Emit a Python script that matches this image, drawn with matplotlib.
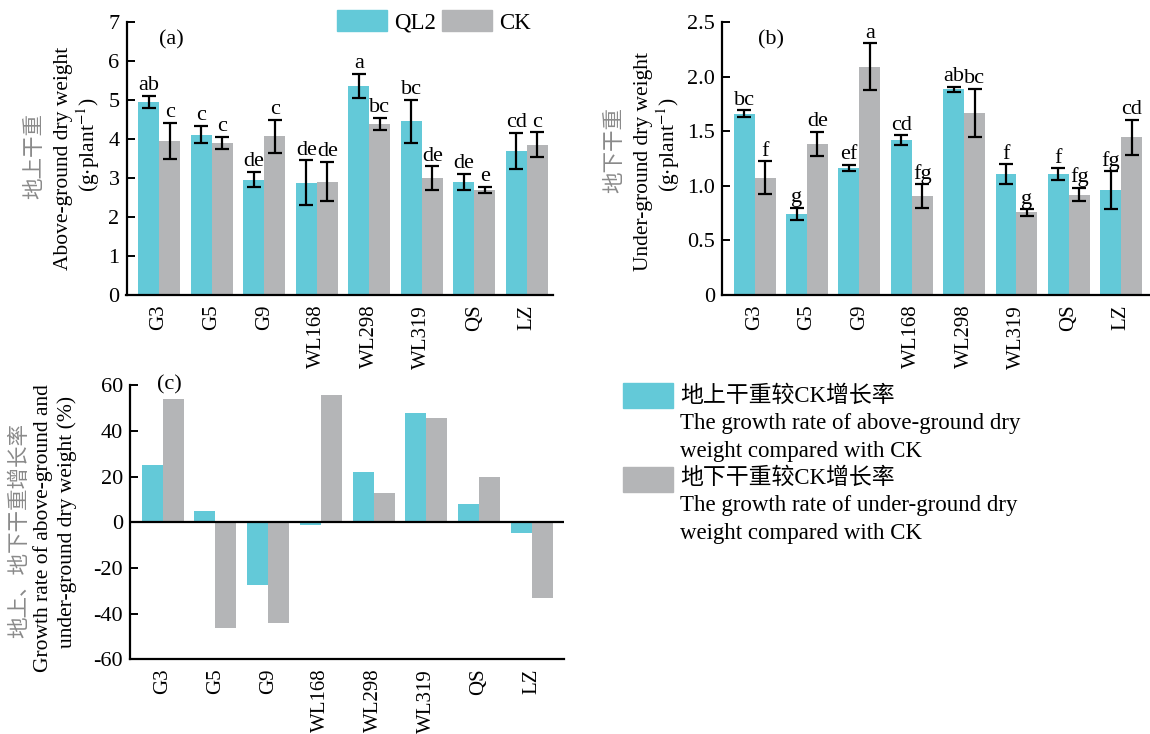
import numpy as np
import matplotlib
matplotlib.use("Agg")
import matplotlib.pyplot as plt
from matplotlib.patches import Rectangle

plt.rcParams['font.family'] = ['Liberation Serif', 'Noto Sans CJK SC']
plt.rcParams['mathtext.fontset'] = 'stix'
plt.rcParams['axes.unicode_minus'] = False

# DATA
cultivars = ["G3", "G5", "G9", "WL168", "WL298", "WL319", "QS", "LZ"]

# above-ground dry weight (g/plant)
above_ql2 = [4.95, 4.11, 2.96, 2.88, 5.37, 4.45, 2.90, 3.69]
above_ql2_err = [0.15, 0.22, 0.19, 0.57, 0.31, 0.56, 0.21, 0.46]
above_ck = [3.96, 3.90, 4.07, 2.91, 4.39, 3.00, 2.69, 3.86]
above_ck_err = [0.46, 0.15, 0.42, 0.50, 0.16, 0.30, 0.08, 0.31]
above_ql2_sig = ["ab", "c", "de", "de", "a", "bc", "de", "cd"]
above_ck_sig = ["c", "c", "c", "de", "bc", "de", "e", "c"]

# under-ground dry weight (g/plant)
under_ql2 = [1.66, 0.745, 1.164, 1.416, 1.884, 1.105, 1.105, 0.96]
under_ql2_err = [0.034, 0.054, 0.03, 0.046, 0.025, 0.092, 0.054, 0.174]
under_ck = [1.075, 1.385, 2.09, 0.908, 1.669, 0.757, 0.92, 1.447]
under_ck_err = [0.15, 0.11, 0.214, 0.108, 0.22, 0.03, 0.06, 0.16]
under_ql2_sig = ["bc", "g", "ef", "cd", "ab", "f", "f", "fg"]
under_ck_sig = ["f", "de", "a", "fg", "bc", "g", "fg", "cd"]

# growth rate compared with CK (%)
rate_above = [24.9, 5.0, -27.4, -1.2, 22.2, 47.9, 7.9, -4.6]
rate_under = [54.0, -46.2, -44.1, 55.9, 12.8, 45.7, 19.7, -33.4]

TEAL = "#63C9D8"
GRAY = "#B4B5B7"
CN_GRAY = "#8a8a8a"
FS = 15.5
W = 0.4

fig = plt.figure(figsize=(11.5, 7.34), dpi=100)

ax_a = fig.add_axes([0.110, 0.598, 0.371, 0.372])
ax_b = fig.add_axes([0.628, 0.598, 0.372, 0.372])
ax_c = fig.add_axes([0.113, 0.102, 0.377, 0.373])

x = np.arange(len(cultivars))


def style_axis(ax):
    for s in ["top", "right"]:
        ax.spines[s].set_visible(False)
    for s in ["left", "bottom"]:
        ax.spines[s].set_linewidth(1.6)
    ax.tick_params(axis="y", direction="in", length=6, width=1.4,
                   labelsize=16, pad=5)
    ax.tick_params(axis="x", length=0, labelsize=15, pad=7)
    ax.set_xticks(x)
    ax.set_xticklabels(cultivars, rotation=90)


def bar_panel(ax, v1, e1, v2, e2, s1, s2, off):
    ax.bar(x - W / 2, v1, W, color=TEAL, zorder=2)
    ax.bar(x + W / 2, v2, W, color=GRAY, zorder=2)
    ekw = dict(fmt="none", ecolor="black", elinewidth=1.6, capsize=5,
               capthick=1.6, zorder=3)
    ax.errorbar(x - W / 2, v1, yerr=e1, **ekw)
    ax.errorbar(x + W / 2, v2, yerr=e2, **ekw)
    for i in range(len(x)):
        ax.text(x[i] - W / 2, v1[i] + e1[i] + off, s1[i], ha="center",
                va="bottom", fontsize=16)
        ax.text(x[i] + W / 2, v2[i] + e2[i] + off, s2[i], ha="center",
                va="bottom", fontsize=16)


# (a) above-ground
bar_panel(ax_a, above_ql2, above_ql2_err, above_ck, above_ck_err,
          above_ql2_sig, above_ck_sig, 0.02)
style_axis(ax_a)
ax_a.set_xlim(-0.62, 7.5)
ax_a.set_ylim(0, 7)
ax_a.set_yticks(range(0, 8))
ax_a.text(0.105, 0.935, "(a)", transform=ax_a.transAxes, ha="center",
          va="center", fontsize=16)
ax_a.text(-0.213, 0.51, "地上干重", transform=ax_a.transAxes, rotation=90,
          ha="center", va="center", fontsize=FS, color=CN_GRAY)
ax_a.text(-0.148, 0.5, "Above-ground dry weight", transform=ax_a.transAxes,
          rotation=90, ha="center", va="center", fontsize=FS)
ax_a.text(-0.09, 0.55, r"(g$\cdot$plant$^{-1}$)", transform=ax_a.transAxes,
          rotation=90, ha="center", va="center", fontsize=FS)

# (b) under-ground
bar_panel(ax_b, under_ql2, under_ql2_err, under_ck, under_ck_err,
          under_ql2_sig, under_ck_sig, 0.005)
style_axis(ax_b)
ax_b.set_xlim(-0.62, 7.55)
ax_b.set_ylim(0, 2.5)
ax_b.set_yticks([0, 0.5, 1.0, 1.5, 2.0, 2.5])
ax_b.set_yticklabels(["0", "0.5", "1.0", "1.5", "2.0", "2.5"])
ax_b.text(0.113, 0.935, "(b)", transform=ax_b.transAxes, ha="center",
          va="center", fontsize=16)
ax_b.text(-0.249, 0.53, "地下干重", transform=ax_b.transAxes, rotation=90,
          ha="center", va="center", fontsize=FS, color=CN_GRAY)
ax_b.text(-0.185, 0.49, "Under-ground dry weight", transform=ax_b.transAxes,
          rotation=90, ha="center", va="center", fontsize=FS)
ax_b.text(-0.126, 0.55, r"(g$\cdot$plant$^{-1}$)", transform=ax_b.transAxes,
          rotation=90, ha="center", va="center", fontsize=FS)

# (c) growth rate
ax_c.bar(x - W / 2, rate_above, W, color=TEAL, zorder=2)
ax_c.bar(x + W / 2, rate_under, W, color=GRAY, zorder=2)
ax_c.axhline(0, color="black", lw=1.6, zorder=3)
style_axis(ax_c)
ax_c.set_xlim(-0.62, 7.6)
ax_c.set_ylim(-60, 60)
ax_c.set_yticks(range(-60, 61, 20))
ax_c.text(0.092, 1.0, "(c)", transform=ax_c.transAxes, ha="center",
          va="center", fontsize=16)
ax_c.text(-0.254, 0.47, "地上、地下干重增长率", transform=ax_c.transAxes,
          rotation=90, ha="center", va="center", fontsize=FS, color=CN_GRAY)
ax_c.text(-0.2, 0.48, "Growth rate of above-ground and",
          transform=ax_c.transAxes, rotation=90, ha="center", va="center",
          fontsize=FS)
ax_c.text(-0.146, 0.5, "under-ground dry weight (%)",
          transform=ax_c.transAxes, rotation=90, ha="center", va="center",
          fontsize=FS)

# top legend
handles = [Rectangle((0, 0), 1, 1, color=TEAL), Rectangle((0, 0), 1, 1, color=GRAY)]
fig.legend(handles, ["QL2", "CK"], ncol=2, frameon=False, fontsize=16.5,
           loc="upper left", bbox_to_anchor=(0.281, 1.005),
           handlelength=2.2, handleheight=1.05, handletextpad=0.3,
           columnspacing=0.25, borderaxespad=0.2)

# legend for (c)
def px(xp, yp):
    return xp / 1150, 1 - yp / 734

for yb, color in [(408, TEAL), (492, GRAY)]:
    x0, y0 = px(623, yb)
    fig.add_artist(Rectangle((x0, y0), 50 / 1150, 25 / 734, color=color,
                             transform=fig.transFigure))

legend_lines = [
    (396, "地上干重较CK增长率"),
    (424, "The growth rate of above-ground dry"),
    (451, "weight compared with CK"),
    (478, "地下干重较CK增长率"),
    (506, "The growth rate of under-ground dry"),
    (533, "weight compared with CK"),
]
for yp, txt in legend_lines:
    fx, fy = px(680, yp)
    fig.text(fx, fy, txt, ha="left", va="center", fontsize=16.5)

fig.savefig("out.png", dpi=100)
